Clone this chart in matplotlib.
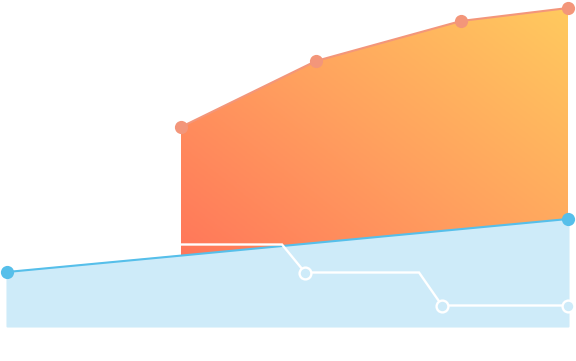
import numpy as np
import matplotlib
matplotlib.use("Agg")
import matplotlib.pyplot as plt
from matplotlib.colors import LinearSegmentedColormap

# ---- data (x position, value above baseline) ----
blue_x = [7, 181, 316, 461, 568]
blue_y = [54, 70.4, 83.2, 96.9, 107]
blue_marker_idx = [0, 4]

orange_x = [181, 316, 461, 568]
orange_top = [199, 265, 305, 318]
orange_base = [70.4, 83.2, 96.9, 107]

white_x = [181, 305, 442, 568]
white_y = [81.5, 53.5, 20.5, 20.5]
white_marker_idx = [1, 2, 3]

# ---- figure ----
W, H = 576, 361
fig = plt.figure(figsize=(W / 100, H / 100), dpi=100)
ax = fig.add_axes([0, 0, 1, 1])
ax.set_xlim(0, W)
ax.set_ylim(-35, 326)
ax.axis("off")

blue_line = "#56BFEA"
blue_fill = "#CEEBF9"
orange_line = "#F3967A"

# blue area
ax.fill_between(blue_x, 0, blue_y, color=blue_fill, ec=blue_fill, lw=1.5, zorder=1)

# orange gradient area
poly = ax.fill_between(orange_x, orange_base, orange_top, color="none", lw=0, zorder=2)
cmap = LinearSegmentedColormap.from_list("og", ["#FF775A", "#FFA25F", "#FFCA5E"])
x0, x1 = min(orange_x), max(orange_x)
y0, y1 = min(orange_base), max(orange_top)
gx = np.linspace(0, 1, 200)
gy = np.linspace(0, 1, 200)
GX, GY = np.meshgrid(gx, gy)
grad = (GX * 0.55 + GY * 0.45)
im = ax.imshow(grad, extent=[x0, x1 + 3, y0, y1], origin="lower", cmap=cmap,
               aspect="auto", zorder=2, interpolation="bilinear")
im.set_clip_path(poly.get_paths()[0], transform=ax.transData)
ax.set_xlim(0, W)
ax.set_ylim(-35, 326)

# orange line + markers
ax.plot(orange_x, orange_top, color=orange_line, lw=1.5, zorder=4)
ax.plot(orange_x, orange_top, "o", color=orange_line, ms=9.5, mec="none", zorder=5)

# blue line + markers
ax.plot(blue_x, blue_y, color=blue_line, lw=1.5, zorder=4)
ax.plot([blue_x[i] for i in blue_marker_idx], [blue_y[i] for i in blue_marker_idx],
        "o", color=blue_line, ms=9.5, mec="none", zorder=5)

# white step line with diagonal transitions
d = 23
verts = [(white_x[0], white_y[0])]
for i in range(1, len(white_x)):
    verts.append((white_x[i] - d, white_y[i - 1]))
    verts.append((white_x[i], white_y[i]))
wx, wy = zip(*verts)
ax.plot(wx, wy, color="white", lw=1.7, zorder=6, solid_joinstyle="miter")
ax.plot([white_x[i] for i in white_marker_idx], [white_y[i] for i in white_marker_idx],
        "o", ms=8.5, mfc=blue_fill, mec="white", mew=1.7, zorder=7)

fig.savefig("out.png", dpi=100)
